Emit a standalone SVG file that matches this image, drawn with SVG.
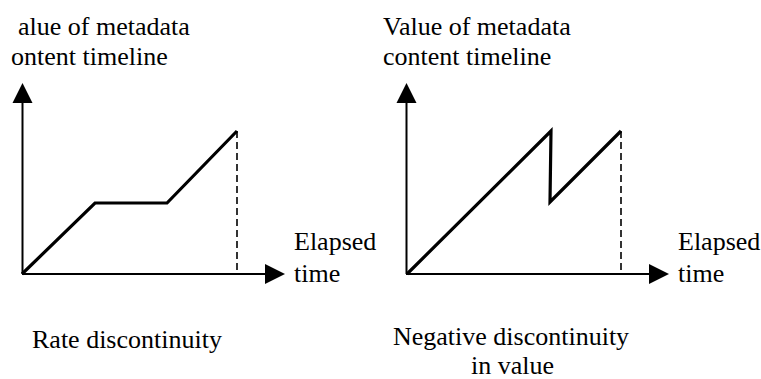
<svg xmlns="http://www.w3.org/2000/svg" width="761" height="379" viewBox="0 0 761 379">
<style>
text{font-family:'Times New Roman','Liberation Serif',Tinos,serif;font-size:26px;fill:#000}
.axis{stroke:#000;stroke-width:2;fill:none}
.plot{stroke:#000;stroke-width:3.2;fill:none}
.dash{stroke:#000;stroke-width:1.6;fill:none;stroke-dasharray:7,4}
</style>
<defs>
<polygon id="head-up" points="0,-19 -10,1 10,1" fill="#000"/>
<polygon id="head-right" points="19,0 -1,-10 -1,10" fill="#000"/>
</defs>
<rect width="761" height="379" fill="#fff"/>
<g id="chart-left">
<text x="18" y="35">alue of metadata</text>
<text x="11" y="65">ontent timeline</text>
<text x="294" y="250">Elapsed</text>
<text x="294" y="282">time</text>
<text x="32" y="348">Rate discontinuity</text>
<polyline class="plot" points="22,274 95,203 167,203 237,131"/>
<line class="dash" x1="237" y1="131" x2="237" y2="274"/>
</g>
<g id="chart-right">
<text x="383" y="35">Value of metadata</text>
<text x="383" y="65">content timeline</text>
<text x="678" y="250">Elapsed</text>
<text x="678" y="282">time</text>
<text x="393" y="345">Negative discontinuity</text>
<text x="471" y="374">in value</text>
<polyline class="plot" points="407,274 551,131 550,202 621,131"/>
<line class="dash" x1="621" y1="131" x2="621" y2="274"/>
</g>
<g id="connectors">
<line class="axis" x1="22.5" y1="274" x2="22.5" y2="100"/>
<line class="axis" x1="22" y1="274" x2="268" y2="274"/>
<use href="#head-up" x="22.5" y="102"/>
<use href="#head-right" x="266" y="274"/>
<line class="axis" x1="406.5" y1="274" x2="406.5" y2="100"/>
<line class="axis" x1="406" y1="274" x2="652" y2="274"/>
<use href="#head-up" x="406.5" y="102"/>
<use href="#head-right" x="650" y="274"/>
</g>
</svg>
